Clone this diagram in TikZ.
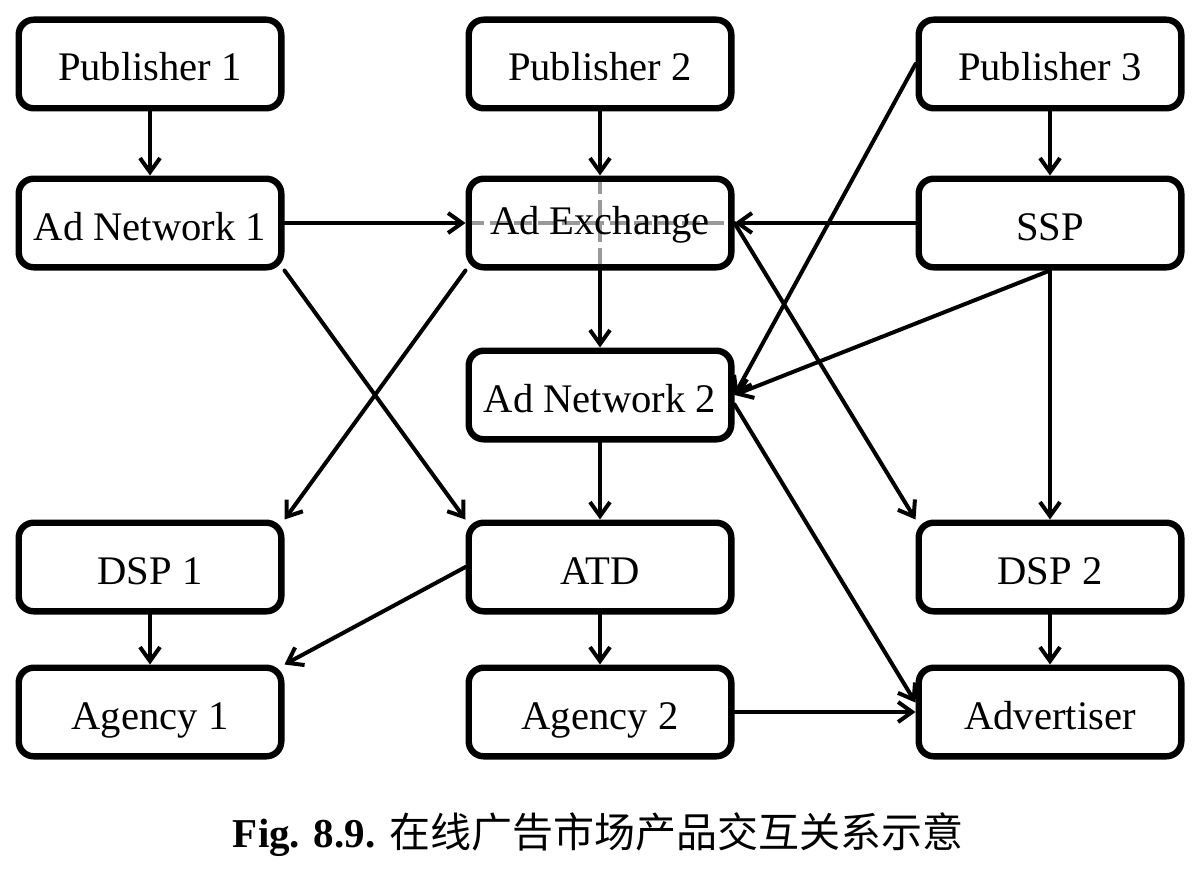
\documentclass[tikz,border=0pt]{standalone}
\usepackage{fontspec}
\setmainfont{Liberation Serif}
\newfontfamily\cjk{Noto Sans CJK SC}
\usetikzlibrary{arrows.meta,backgrounds}
\begin{document}
\begin{tikzpicture}[x=0.5pt,y=-0.5pt,
  box/.style={draw, line width=3.2pt, rounded corners=7.5pt, fill=white,
    minimum width=131.3pt, minimum height=44.3pt, inner sep=0pt,
    font=\fontsize{20.3}{24}\selectfont, text height=22pt, text depth=5pt},
  conn/.style={line width=2pt, line cap=round, -{Straight Barb[length=7pt,width=10pt]}},
  guide/.style={draw=gray!80, line width=2pt, dash pattern=on 9pt off 3pt}]
\useasboundingbox (0,0) rectangle (1199,872);
% nodes
\node[box] (pub1) at (150,64) {Publisher 1};
\node[box] (pub2) at (600,64) {Publisher 2};
\node[box] (pub3) at (1050,64) {Publisher 3};
\node[box] (adn1) at (150,223) {Ad Network 1};
\node[box, fill=none, text height=16pt] (adex) at (600,223) {Ad Exchange};
\node[box] (ssp) at (1050,223) {SSP};
\node[box] (adn2) at (600,395) {Ad Network 2};
\node[box] (dsp1) at (150,567) {DSP 1};
\node[box] (atd) at (600,567) {ATD};
\node[box] (dsp2) at (1050,567) {DSP 2};
\node[box] (ag1) at (150,712) {Agency 1};
\node[box] (ag2) at (600,712) {Agency 2};
\node[box] (adv) at (1050,712) {Advertiser};
% gray guides in Ad Exchange, behind its text
\begin{scope}[on background layer]
\draw[guide] (adex.west) -- (adex.east);
\draw[guide] (adex.north) -- (adex.south);
\end{scope}
% connectors
\draw[conn] (pub1) -- (adn1);
\draw[conn] (pub2) -- (adex);
\draw[conn] (pub3) -- (ssp);
\draw[conn] (pub3.west) -- (adn2.east);
\draw[conn] (adn1.east) -- (adex.west);
\draw[conn] (ssp.west) -- (adex.east);
\draw[conn] (adex) -- (adn2);
\draw[conn] (adex.south west) -- (dsp1.north east);
\draw[conn] (adn1.south east) -- (atd.north west);
\draw[conn] (adex.east) -- (dsp2.north west);
\draw[conn] (ssp.south) -- (adn2.east);
\draw[conn] (ssp.south) -- (dsp2.north);
\draw[conn] (adn2) -- (atd);
\draw[conn] (adn2.-4) -- (adv.176);
\draw[conn] (atd.west) -- (ag1.north east);
\draw[conn] (atd) -- (ag2);
\draw[conn] (dsp1) -- (ag1);
\draw[conn] (dsp2) -- (adv);
\draw[conn] (ag2.east) -- (adv.west);
% caption
\node (cap) at (598,835) {\fontsize{20.5}{24}\selectfont\textbf{Fig. 8.9.} {\cjk 在线广告市场产品交互关系示意}};
\end{tikzpicture}
\end{document}
